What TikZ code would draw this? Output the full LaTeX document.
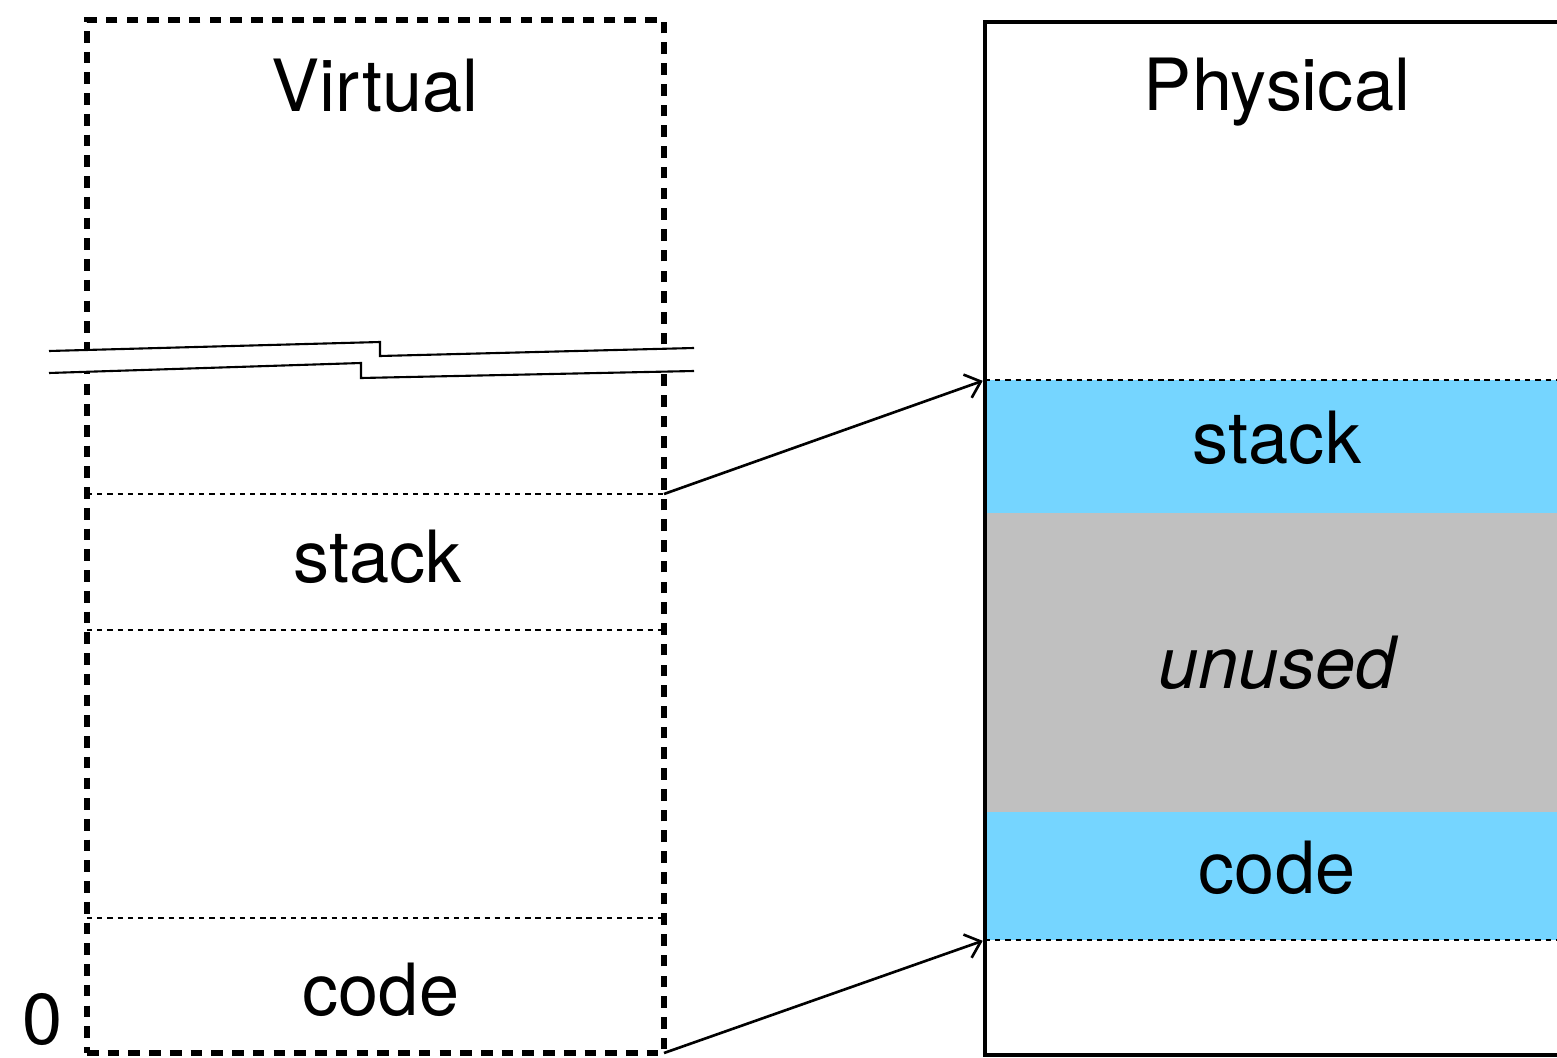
\documentclass[tikz,border=0pt]{standalone}
\usepackage{fontspec}
\setmainfont{TeX Gyre Heros}
\usepackage{tikz}
\usetikzlibrary{arrows.meta}
\definecolor{segblue}{RGB}{117,213,255}
\definecolor{unusedgrey}{RGB}{192,192,192}
\tikzstyle{region}=[rectangle, inner sep=0pt, outer sep=0pt]
\tikzstyle{virtframe}=[region, draw, line width=1.6pt, dash pattern=on 3.3pt off 2.6pt]
\tikzstyle{physframe}=[region, draw, line width=1.4pt]
\tikzstyle{divider}=[line width=0.55pt, dash pattern=on 1.5pt off 1.4pt]
\tikzstyle{seglabel}=[inner sep=0pt, anchor=base, font=\fontsize{20.5}{24}\selectfont]
\tikzstyle{mapping}=[-{Straight Barb[length=4pt,width=7pt]}, line width=0.75pt, shorten >=0.7pt]

\begin{document}
\begin{tikzpicture}[x=1cm, y=-1cm]
		   \useasboundingbox (0,0) rectangle (15.57,10.57);
		   \clip (0,0) rectangle (15.57,10.57);
		   \begin{scope}
			   % physical memory, right side runs off the page
			   \node (pstack) at (12.925, 4.465) [region, fill=segblue, minimum width=6.15cm, minimum height=1.33cm] {};
			   \node (punused) at (12.925, 6.625) [region, fill=unusedgrey, minimum width=6.15cm, minimum height=2.99cm] {};
			   \node (pcode) at (12.925, 8.76) [region, fill=segblue, minimum width=6.15cm, minimum height=1.28cm] {};
			   \node (pmem) at (12.925, 5.385) [physframe, minimum width=6.15cm, minimum height=10.33cm] {};

			   % virtual address space
			   \node (vmem) at (3.755, 5.365) [virtframe, minimum width=5.77cm, minimum height=10.33cm] {};
			   \node (vstack) at (3.755, 5.62) [region, minimum width=5.77cm, minimum height=1.36cm] {};
			   \node (vcode) at (3.755, 9.855) [region, minimum width=5.77cm, minimum height=1.35cm] {};

			   \node (vtitle) at (3.75, 1.12) [seglabel] {Virtual};
			   \node (ptitle) at (12.77, 1.11) [seglabel] {Physical};
			   \node (vstacktxt) at (3.78, 5.82) [seglabel] {stack};
			   \node (vcodetxt) at (3.81, 10.15) [seglabel] {code};
			   \node (pstacktxt) at (12.77, 4.63) [seglabel] {stack};
			   \node (punusedtxt) at (12.77, 6.88) [seglabel] {\itshape unused};
			   \node (pcodetxt) at (12.77, 8.93) [seglabel] {code};
			   \node (zero) at (0.43, 10.44) [seglabel] {0};
		   \end{scope}
		   \begin{scope}
			   \path [divider] (vstack.north west) edge (vstack.north east);
			   \path [divider] (vstack.south west) edge (vstack.south east);
			   \path [divider] (vcode.north west) edge (vcode.north east);
			   \path [divider] (pstack.north west) edge (pstack.north east);
			   \path [divider] (pcode.south west) edge (pcode.south east);

			   % break in the address space
			   \fill [white] (0.49,3.51) -- (3.80,3.42) -- (3.80,3.56) -- (6.94,3.48)
				   -- (6.94,3.71) -- (3.61,3.78) -- (3.61,3.63) -- (0.49,3.73) -- cycle;
			   \draw [line width=0.6pt] (0.49,3.51) -- (3.80,3.42) -- (3.80,3.56) -- (6.94,3.48);
			   \draw [line width=0.6pt] (0.49,3.73) -- (3.61,3.63) -- (3.61,3.78) -- (6.94,3.71);

			   \path [mapping] (vstack.north east) edge (pstack.north west);
			   \path [mapping] (vcode.south east) edge (pcode.south west);
		   \end{scope}
	   \end{tikzpicture}
\end{document}
